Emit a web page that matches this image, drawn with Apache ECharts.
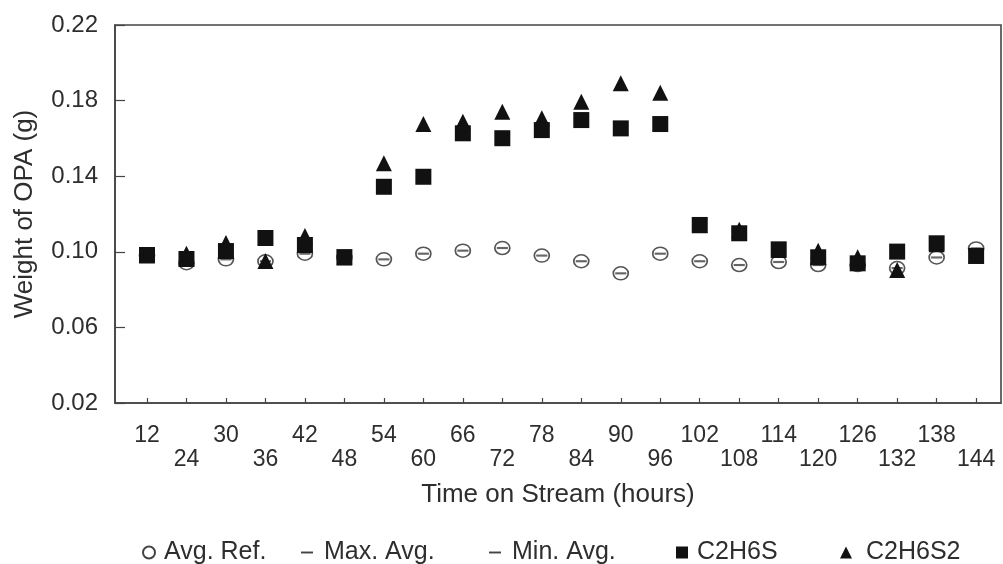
<!DOCTYPE html>
<html>
<head>
<meta charset="utf-8">
<script src="https://cdn.jsdelivr.net/npm/echarts@6/dist/echarts.min.js"></script>
<style>html,body{margin:0;padding:0;background:#fff}#chart{width:1003px;height:564px}</style>
</head>
<body>
<div id="chart"></div>
<script>
var categories = [12,24,30,36,42,48,54,60,66,72,78,84,90,96,102,108,114,120,126,132,138,144];
var yTicks = [0.02,0.06,0.10,0.14,0.18,0.22];
var avgRef = [0.098,0.094,0.096,0.095,0.099,0.097,0.096,0.099,0.1006,0.102,0.098,0.095,0.0886,0.099,0.095,0.093,0.0946,0.093,0.093,0.0914,0.097,0.1018];
var maxAvg = [0.0982,0.0942,0.0962,0.0952,0.0992,0.0972,0.0962,0.0992,0.1008,0.1022,0.0982,0.0952,0.0888,0.0992,0.0952,0.0932,0.0948,0.0932,0.0932,0.0916,0.0972,0.102];
var minAvg = [0.0978,0.0938,0.0958,0.0948,0.0988,0.0968,0.0958,0.0988,0.1004,0.1018,0.0978,0.0948,0.0884,0.0988,0.0948,0.0928,0.0944,0.0928,0.0928,0.0912,0.0968,0.1016];
var c2h6s = [0.0983,0.0962,0.1004,0.1073,0.1036,0.0972,0.1344,0.1397,0.1627,0.1601,0.1644,0.1697,0.1653,0.1676,0.1142,0.1098,0.1013,0.0971,0.0939,0.1001,0.1045,0.0978];
var c2h6s2 = [0.098,0.099,0.1047,0.0951,0.1084,0.097,0.1468,0.1676,0.1688,0.1741,0.1706,0.1794,0.1892,0.1842,0.114,0.1117,0.101,0.1006,0.0971,0.0904,0.104,0.098];

function pts(arr){ return arr.map(function(v,i){ return [i, v]; }); }
var idx = categories.map(function(c,i){ return i; });

var font = '"Liberation Sans", Arial, sans-serif';
var txt = '#2e2e2e';
var axisCol = '#444';
function leg(name, left, pad, icon, style){
  return {show: true, orient: 'horizontal', left: left, top: 535, itemWidth: 12, itemHeight: 12, itemGap: 0,
    textStyle: {fontSize: 25, color: txt, fontFamily: font, padding: [0,0,0,pad]},
    data: [{name: name, icon: icon, itemStyle: style}]};
}
var chart = echarts.init(document.getElementById('chart'), null, {renderer:'canvas'});
chart.setOption({
  animation: false,
  backgroundColor: '#fff',
  textStyle: {fontFamily: font, color: txt},
  grid: {left: 115, right: 2, top: 25, bottom: 161, show: true, borderColor: axisCol, borderWidth: 1.6, containLabel: false},
  xAxis: {
    type: 'value', min: -0.81, max: 21.63,
    name: 'Time on Stream (hours)', nameLocation: 'middle', nameGap: 79,
    nameTextStyle: {fontSize: 26, color: txt, fontFamily: font},
    axisLine: {show: true, onZero: false, lineStyle: {color: axisCol, width: 1.6}},
    axisTick: {show: true, inside: true, length: 5, customValues: idx, lineStyle: {color: axisCol, width: 1.2}},
    splitLine: {show: false},
    axisLabel: {
      customValues: idx, fontSize: 23, color: txt, margin: 21, lineHeight: 24, fontFamily: font,
      formatter: function(v){ var i = Math.round(v); if (i < 0 || i >= categories.length) return ''; return (i % 2 === 0) ? String(categories[i]) + '\n ' : ' \n' + categories[i]; }
    }
  },
  yAxis: {
    type: 'value', min: 0.02, max: 0.22,
    name: 'Weight of OPA (g)', nameLocation: 'middle', nameGap: 77, nameRotate: 90,
    nameTextStyle: {fontSize: 26, color: txt, fontFamily: font},
    axisLine: {show: true, onZero: false, lineStyle: {color: axisCol, width: 1.6}},
    axisTick: {show: true, inside: true, length: 10, customValues: yTicks, lineStyle: {color: axisCol, width: 1.2}},
    splitLine: {show: false},
    axisLabel: {customValues: yTicks, fontSize: 24, color: txt, margin: 17, fontFamily: font,
      formatter: function(v){ return v.toFixed(2); }}
  },
  legend: [
    leg('Avg. Ref.', 137, 4, 'emptyCircle', {color: '#444', borderWidth: 1.3}),
    leg('Max. Avg.', 296, 6, 'path://M0,5H10V6.6H0Z', {color: '#444'}),
    leg('Min. Avg.', 484, 6, 'path://M0,5H10V6.6H0Z', {color: '#444'}),
    leg('C2H6S', 671, 4, 'rect', {color: '#111'}),
    leg('C2H6S2', 835, 9, 'triangle', {color: '#111'})
  ],
  series: [
    {name: 'Avg. Ref.', type: 'scatter', z: 2, data: pts(avgRef), symbol: 'circle', symbolSize: [15,13],
      itemStyle: {color: '#fff', borderColor: '#555', borderWidth: 1.6, opacity: 1}},
    {name: 'Max. Avg.', type: 'scatter', z: 3, data: pts(maxAvg), symbol: 'rect', symbolSize: [11,1.4],
      itemStyle: {color: '#666', opacity: 1}},
    {name: 'Min. Avg.', type: 'scatter', z: 3, data: pts(minAvg), symbol: 'rect', symbolSize: [11,1.4],
      itemStyle: {color: '#666', opacity: 1}},
    {name: 'C2H6S', type: 'scatter', z: 5, data: pts(c2h6s), symbol: 'rect', symbolSize: 16,
      itemStyle: {color: '#111', opacity: 1}},
    {name: 'C2H6S2', type: 'scatter', z: 4, data: pts(c2h6s2), symbol: 'triangle', symbolSize: 16,
      itemStyle: {color: '#111', opacity: 1}}
  ]
});
</script>
</body>
</html>
